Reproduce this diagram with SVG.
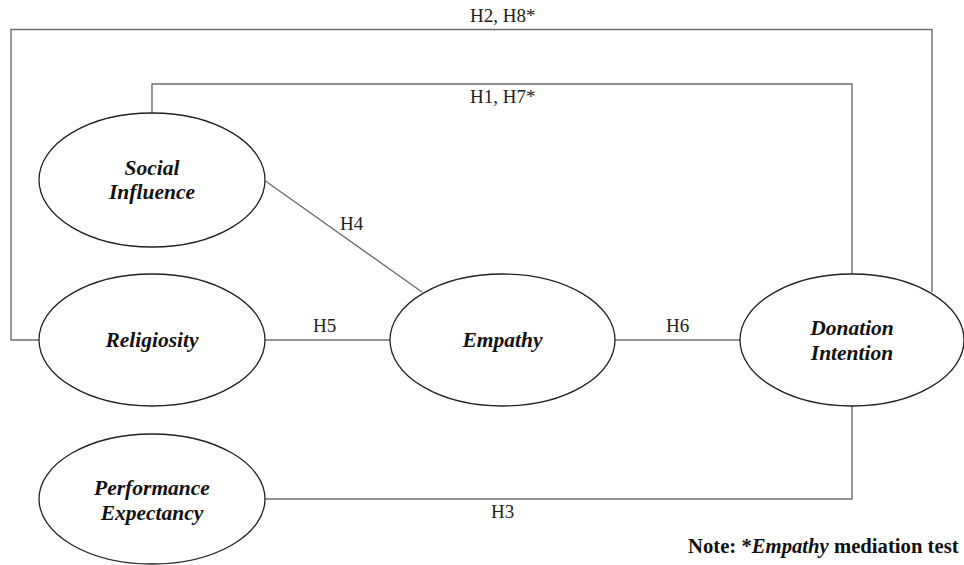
<svg xmlns="http://www.w3.org/2000/svg" width="964" height="565" viewBox="0 0 964 565">
<style>
.e{fill:#fff;stroke:#222;stroke-width:1.3}
.n{font-family:"Liberation Serif","DejaVu Serif",serif;font-weight:bold;font-style:italic;font-size:21.5px;fill:#111;text-anchor:middle}
.c{fill:none;stroke:#6e6e6e;stroke-width:1.4}
.l{font-family:"Liberation Serif","DejaVu Serif",serif;font-size:19px;fill:#222}
.note{font-family:"Liberation Serif","DejaVu Serif",serif;font-weight:bold;font-size:20.7px;fill:#111}
</style>
<rect width="964" height="565" fill="#fff"/>
<g id="connectors">
<polyline class="c" points="39,340 11,340 11,29.5 932,29.5 932,292"/>
<polyline class="c" points="152,113 152,84 852,84 852,274"/>
<line class="c" x1="264" y1="180" x2="422" y2="292"/>
<line class="c" x1="265" y1="340" x2="390" y2="340"/>
<line class="c" x1="615" y1="340" x2="740" y2="340"/>
<polyline class="c" points="265,499 852,499 852,406"/>
<text class="l" x="470" y="21.5">H2, H8*</text>
<text class="l" x="470" y="103">H1, H7*</text>
<text class="l" x="340" y="230">H4</text>
<text class="l" x="313" y="332">H5</text>
<text class="l" x="666" y="332">H6</text>
<text class="l" x="491" y="518">H3</text>
</g>
<g id="social-influence">
<ellipse class="e" cx="152" cy="180" rx="113" ry="67"/>
<text class="n" x="152" y="175">Social</text>
<text class="n" x="152" y="199">Influence</text>
</g>
<g id="religiosity">
<ellipse class="e" cx="152" cy="340" rx="113" ry="66"/>
<text class="n" x="152" y="347">Religiosity</text>
</g>
<g id="performance-expectancy">
<ellipse class="e" cx="152" cy="499" rx="113" ry="65"/>
<text class="n" x="152" y="495">Performance</text>
<text class="n" x="152" y="520">Expectancy</text>
</g>
<g id="empathy">
<ellipse class="e" cx="502.5" cy="340" rx="112.5" ry="66"/>
<text class="n" x="502.5" y="347">Empathy</text>
</g>
<g id="donation-intention">
<ellipse class="e" cx="852" cy="340" rx="112" ry="66"/>
<text class="n" x="852" y="335">Donation</text>
<text class="n" x="852" y="360">Intention</text>
</g>
<text class="note" x="688" y="553">Note: *<tspan font-style="italic">Empathy</tspan> mediation test</text>
</svg>
